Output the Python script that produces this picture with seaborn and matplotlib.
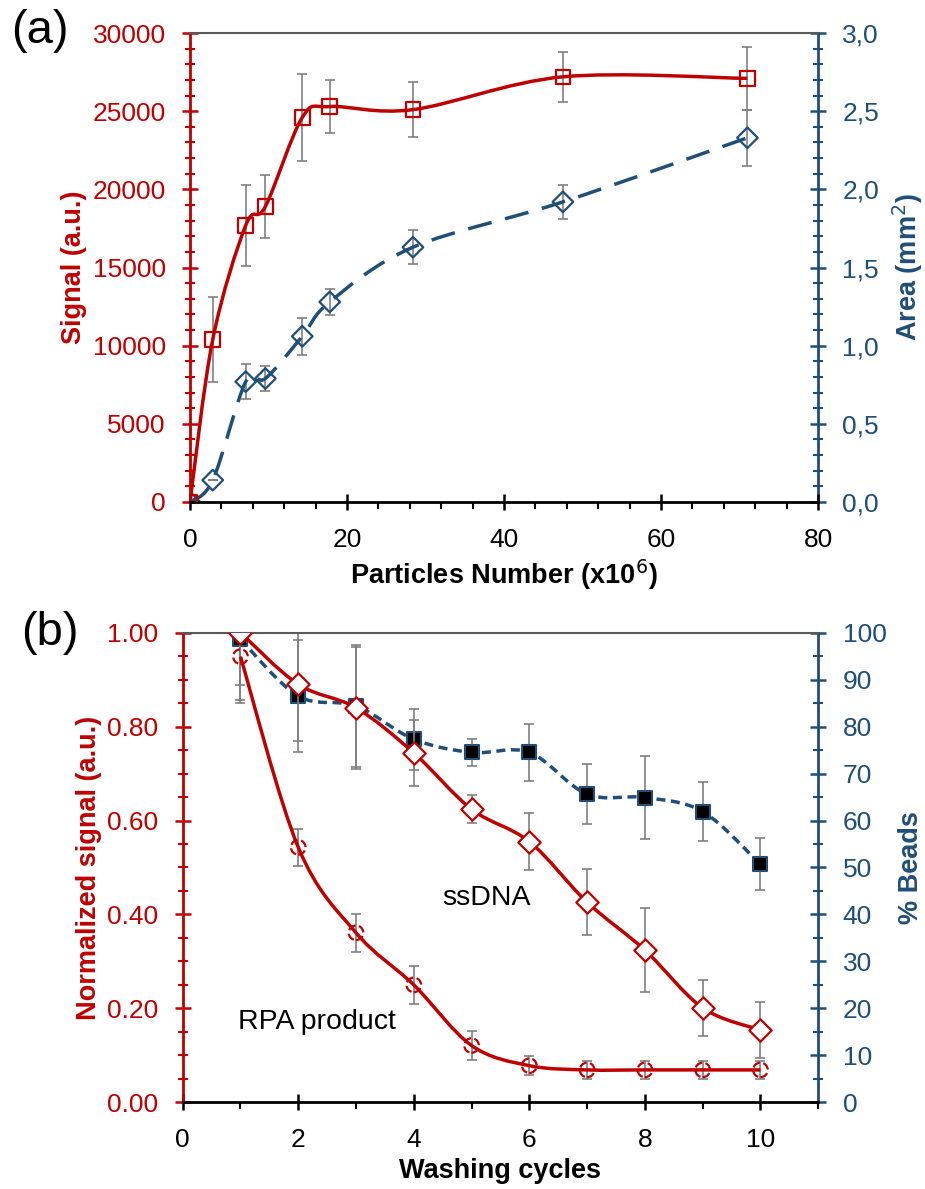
import matplotlib
matplotlib.use("Agg")
import numpy as np
import pandas as pd
import matplotlib.pyplot as plt
import seaborn as sns
from matplotlib.path import Path
from matplotlib.patches import PathPatch
from matplotlib.ticker import MultipleLocator, FuncFormatter

# ---- panel (a) data ----
particles = [0, 2.9, 7.1, 9.6, 14.3, 17.8, 28.4, 47.5, 71.0]
signal = [0, 10400, 17700, 18900, 24600, 25300, 25100, 27200, 27100]
signal_err = [0, 2700, 2600, 2000, 2800, 1700, 1750, 1600, 2030]
area = [0, 0.14, 0.77, 0.79, 1.06, 1.28, 1.63, 1.92, 2.33]
area_err = [0, 0, 0.11, 0.08, 0.12, 0.085, 0.11, 0.11, 0.18]

# ---- panel (b) data ----
cycles = [1, 2, 3, 4, 5, 6, 7, 8, 9, 10]
ssdna = [1.00, 0.89, 0.84, 0.744, 0.624, 0.555, 0.426, 0.324, 0.201, 0.154]
ssdna_err = [0.15, 0.12, 0.13, 0.07, 0.03, 0.06, 0.07, 0.09, 0.06, 0.06]
rpa = [0.949, 0.543, 0.361, 0.250, 0.121, 0.078, 0.069, 0.069, 0.069, 0.069]
rpa_err = [0.06, 0.04, 0.04, 0.04, 0.03, 0.02, 0.02, 0.02, 0.02, 0.02]
beads = [98.6, 86.5, 84.4, 77.3, 74.5, 74.5, 65.6, 64.9, 61.9, 50.7]
beads_err = [13, 12, 13, 6.5, 2.8, 6, 6.4, 8.9, 6.3, 5.5]

RED = '#C00000'
BLUE = '#1F4E79'
GREY = '#808080'

sns.set_style("white")
plt.rcParams['font.family'] = ['Liberation Sans', 'DejaVu Sans']
plt.rcParams['axes.unicode_minus'] = False
plt.rcParams['text.color'] = 'black'
plt.rcParams['axes.labelcolor'] = 'black'
plt.rcParams['xtick.color'] = 'black'
plt.rcParams['ytick.color'] = 'black'

TICK_FS = 19
LABEL_FS = 19.5


def smooth(ax, x, y, **kw):
    # excel-like smoothed line: catmull-rom turned into bezier segments
    pts = np.column_stack([x, y]).astype(float)
    n = len(pts)
    verts, codes = [pts[0]], [Path.MOVETO]
    for i in range(n - 1):
        p0 = pts[max(i - 1, 0)]
        p1, p2 = pts[i], pts[i + 1]
        p3 = pts[min(i + 2, n - 1)]
        verts += [p1 + (p2 - p0) / 6, p2 - (p3 - p1) / 6, p2]
        codes += [Path.CURVE4] * 3
    ax.add_patch(PathPatch(Path(verts, codes), fill=False, **kw))


def style_axes(ax, ax2, xlabel, ylabel, y2label):
    for s in ['left', 'right', 'bottom', 'top']:
        ax2.spines[s].set_visible(s == 'right')
    ax.spines['right'].set_visible(False)
    ax.spines['left'].set_color(RED)
    ax.spines['left'].set_linewidth(2)
    ax.spines['bottom'].set_color('black')
    ax.spines['bottom'].set_linewidth(2)
    ax.spines['top'].set_color('#595959')
    ax.spines['top'].set_linewidth(1.5)
    ax2.spines['right'].set_color(BLUE)
    ax2.spines['right'].set_linewidth(2)
    ax.tick_params(axis='y', which='major', direction='inout', length=11, width=1.8,
                   color=RED, labelcolor=RED, labelsize=TICK_FS, pad=12, left=True)
    ax.tick_params(axis='y', which='minor', direction='inout', length=7, width=1.5,
                   color=RED, left=True)
    ax.tick_params(axis='x', which='major', direction='inout', length=11, width=1.8,
                   color='black', labelcolor='black', labelsize=TICK_FS, pad=13,
                   bottom=True, top=False)
    ax.tick_params(axis='x', which='minor', direction='out', length=5, width=1.5,
                   color='black', bottom=True, top=False)
    ax2.tick_params(axis='y', which='major', direction='inout', length=11, width=1.8,
                    color=BLUE, labelcolor=BLUE, labelsize=TICK_FS, pad=12, right=True)
    ax2.tick_params(axis='y', which='minor', direction='inout', length=7, width=1.5,
                    color=BLUE, right=True)
    ax.set_xlabel(xlabel, fontsize=LABEL_FS, fontweight='bold', labelpad=4)
    ax.set_ylabel(ylabel, fontsize=LABEL_FS, fontweight='bold', color=RED, labelpad=4)
    ax2.set_ylabel(y2label, fontsize=LABEL_FS, fontweight='bold', color=BLUE, labelpad=8)
    # red (left) axes on top of the twin
    ax.set_zorder(ax2.get_zorder() + 1)
    ax.patch.set_visible(False)


fig = plt.figure(figsize=(9.25, 11.89), dpi=100)

# ================= panel (a) =================
axa = fig.add_axes([0.2054, 0.5778, 0.679, 0.3944])
axa2 = axa.twinx()

df_a = pd.DataFrame({'particles': particles, 'signal': signal, 'area': area})

axa2.errorbar(particles, area, yerr=area_err, fmt='none', ecolor=GREY,
              elinewidth=1.2, capsize=3.8, capthick=1.2, zorder=1)
smooth(axa2, particles, area, edgecolor=BLUE, linewidth=2.5,
       linestyle=(0, (7, 4)), zorder=2)
sns.scatterplot(data=df_a, x='particles', y='area', ax=axa2, marker='D', s=110,
                facecolor='none', edgecolor=BLUE, linewidth=1.6, zorder=3)

axa.errorbar(particles, signal, yerr=signal_err, fmt='none', ecolor=GREY,
             elinewidth=1.2, capsize=3.8, capthick=1.2, zorder=1)
smooth(axa, particles, signal, edgecolor=RED, linewidth=2.5, zorder=2)
sns.scatterplot(data=df_a, x='particles', y='signal', ax=axa, marker='s', s=110,
                facecolor='none', edgecolor=RED, linewidth=1.6, zorder=3)

axa.set_xlim(0, 80)
axa.set_ylim(0, 30000)
axa2.set_ylim(0, 3.0)
axa.xaxis.set_major_locator(MultipleLocator(20))
axa.xaxis.set_minor_locator(MultipleLocator(4))
axa.yaxis.set_major_locator(MultipleLocator(5000))
axa.yaxis.set_minor_locator(MultipleLocator(1000))
axa2.yaxis.set_major_locator(MultipleLocator(0.5))
axa2.yaxis.set_minor_locator(MultipleLocator(0.1))
axa2.yaxis.set_major_formatter(FuncFormatter(lambda v, p: f"{v:.1f}".replace('.', ',')))
style_axes(axa, axa2, 'Particles Number (x10$^{6}$)', 'Signal (a.u.)', 'Area (mm$^{2}$)')

# ================= panel (b) =================
axb = fig.add_axes([0.1975, 0.0729, 0.6871, 0.395])
axb2 = axb.twinx()

df_b = pd.DataFrame({'cycles': cycles, 'ssdna': ssdna, 'rpa': rpa, 'beads': beads})

axb2.errorbar(cycles, beads, yerr=beads_err, fmt='none', ecolor=GREY,
              elinewidth=1.2, capsize=3.8, capthick=1.2, zorder=1)
smooth(axb2, cycles, beads, edgecolor=BLUE, linewidth=2.5,
       linestyle=(0, (2.6, 1.6)), zorder=2)
sns.scatterplot(data=df_b, x='cycles', y='beads', ax=axb2, marker='s', s=110,
                color='black', edgecolor=BLUE, linewidth=1.5, zorder=3)

axb.errorbar(cycles, ssdna, yerr=ssdna_err, fmt='none', ecolor=GREY,
             elinewidth=1.2, capsize=3.8, capthick=1.2, zorder=1)
axb.errorbar(cycles, rpa, yerr=rpa_err, fmt='none', ecolor=GREY,
             elinewidth=1.2, capsize=3.8, capthick=1.2, zorder=1)
smooth(axb, cycles, ssdna, edgecolor=RED, linewidth=2.5, zorder=2)
smooth(axb, cycles, rpa, edgecolor=RED, linewidth=2.5, zorder=2)
sns.scatterplot(data=df_b, x='cycles', y='ssdna', ax=axb, marker='D', s=130,
                facecolor='white', edgecolor=RED, linewidth=1.6, zorder=3)
sns.scatterplot(data=df_b, x='cycles', y='rpa', ax=axb, marker='o', s=110,
                facecolor='none', edgecolor=RED, linewidth=1.6, linestyle='--', zorder=3)

axb.text(5.26, 0.435, 'ssDNA', fontsize=20.5, ha='center', va='center')
axb.text(2.32, 0.172, 'RPA product', fontsize=20.5, ha='center', va='center')

axb.set_xlim(0, 11)
axb.set_ylim(0, 1.0)
axb2.set_ylim(0, 100)
axb.xaxis.set_major_locator(MultipleLocator(2))
axb.xaxis.set_minor_locator(MultipleLocator(1))
axb.yaxis.set_major_locator(MultipleLocator(0.2))
axb.yaxis.set_minor_locator(MultipleLocator(0.05))
axb.yaxis.set_major_formatter(FuncFormatter(lambda v, p: f"{v:.2f}"))
axb2.yaxis.set_major_locator(MultipleLocator(10))
axb2.yaxis.set_minor_locator(MultipleLocator(5))
style_axes(axb, axb2, 'Washing cycles', 'Normalized signal (a.u.)', '% Beads')

for a in (axa, axa2, axb, axb2):
    leg = a.get_legend()
    if leg is not None:
        leg.remove()

fig.text(40 / 925, 1 - 31 / 1189, '(a)', fontsize=34, ha='center', va='center')
fig.text(50 / 925, 1 - 633 / 1189, '(b)', fontsize=34, ha='center', va='center')

fig.savefig('out.png', dpi=100)
